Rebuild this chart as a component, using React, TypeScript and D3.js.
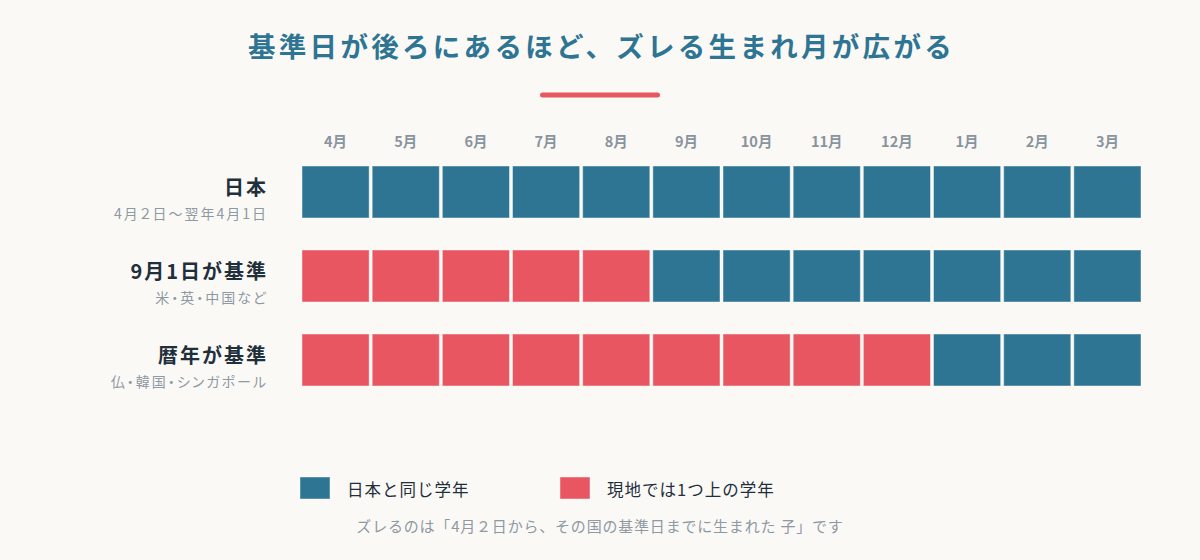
import React from 'react';
import * as d3 from 'd3';

const months = ['4月', '5月', '6月', '7月', '8月', '9月', '10月', '11月', '12月', '1月', '2月', '3月'];
const rowLabels = ['日本', '9月1日が基準', '暦年が基準'];
const rowSubLabels = ['4月２日～翌年4月1日', '米・英・中国など', '仏・韓国・シンガポール'];
// 0 = 日本と同じ学年, 1 = 現地では1つ上の学年
const japanRow = [0, 0, 0, 0, 0, 0, 0, 0, 0, 0, 0, 0];
const sept1Row = [1, 1, 1, 1, 1, 0, 0, 0, 0, 0, 0, 0];
const calendarRow = [1, 1, 1, 1, 1, 1, 1, 1, 1, 0, 0, 0];
const rowsData = [japanRow, sept1Row, calendarRow];
const legendLabels = ['日本と同じ学年', '現地では1つ上の学年'];
const title = '基準日が後ろにあるほど、ズレる生まれ月が広がる';
const footnote = 'ズレるのは「4月２日から、その国の基準日までに生まれた 子」です';

const W = 1200;
const H = 560;
const FONT = '"Noto Sans CJK JP", "Noto Sans", sans-serif';
const TEAL = '#2e7593';
const RED = '#e85661';

export default function App() {
  const x = d3.scaleBand<string>().domain(months).range([302, 1141]).paddingInner(0.043);
  const y = d3
    .scaleBand<number>()
    .domain(d3.range(rowsData.length))
    .range([166, 386])
    .paddingInner(32 / 84)
    .paddingOuter(0);
  const color = d3.scaleOrdinal<number, string>().domain([0, 1]).range([TEAL, RED]);

  return (
    <svg
      width={W}
      height={H}
      style={{ position: 'absolute', left: 0, top: 0, background: '#fbf9f6', fontFamily: FONT }}
    >
      <rect x={0} y={0} width={W} height={H} fill="#fbf9f6" />
      <text
        x={W / 2 + 1.5}
        y={45}
        textAnchor="middle"
        dominantBaseline="central"
        fontSize={27.5}
        fontWeight={700}
        letterSpacing={3.3}
        fill={TEAL}
      >
        {title}
      </text>
      <rect x={540} y={92.5} width={120} height={5} rx={2.5} fill={RED} />

      {months.map((m) => (
        <text
          key={m}
          x={(x(m) as number) + x.bandwidth() / 2}
          y={140}
          textAnchor="middle"
          dominantBaseline="central"
          fontSize={14.5}
          fontWeight={700}
          fill="#8a949e"
        >
          {m}
        </text>
      ))}

      {rowsData.map((row, ri) => {
        const y0 = y(ri) as number;
        const cy = y0 + y.bandwidth() / 2;
        return (
          <g key={ri}>
            <text
              x={268}
              y={cy - 5.5}
              textAnchor="end"
              dominantBaseline="central"
              fontSize={20}
              fontWeight={700}
              letterSpacing={2}
              fill="#1f2f3c"
            >
              {rowLabels[ri]}
            </text>
            <text
              x={268}
              y={cy + 21}
              textAnchor="end"
              dominantBaseline="central"
              fontSize={14}
              letterSpacing={2}
              style={{ fontFeatureSettings: '"palt"' }}
              fill="#8e99a3"
            >
              {rowSubLabels[ri]}
            </text>
            {row.map((v, mi) => (
              <rect
                key={mi}
                x={x(months[mi]) as number}
                y={y0}
                width={x.bandwidth()}
                height={y.bandwidth()}
                fill={color(v)}
                stroke="rgba(255,255,255,0.45)"
                strokeWidth={1}
              />
            ))}
          </g>
        );
      })}

      {legendLabels.map((l, i) => (
        <g key={l} transform={`translate(${300 + i * 260},477)`}>
          <rect
            x={0}
            y={0}
            width={30}
            height={22}
            fill={color(i)}
            stroke="rgba(255,255,255,0.45)"
            strokeWidth={1}
          />
          <text x={47} y={12} dominantBaseline="central" fontSize={16.5} letterSpacing={1} fill="#1f2f3c">
            {l}
          </text>
        </g>
      ))}

      <text
        x={W / 2}
        y={525}
        textAnchor="middle"
        dominantBaseline="central"
        fontSize={15}
        letterSpacing={0.8}
        fill="#8e99a3"
      >
        {footnote}
      </text>
    </svg>
  );
}
